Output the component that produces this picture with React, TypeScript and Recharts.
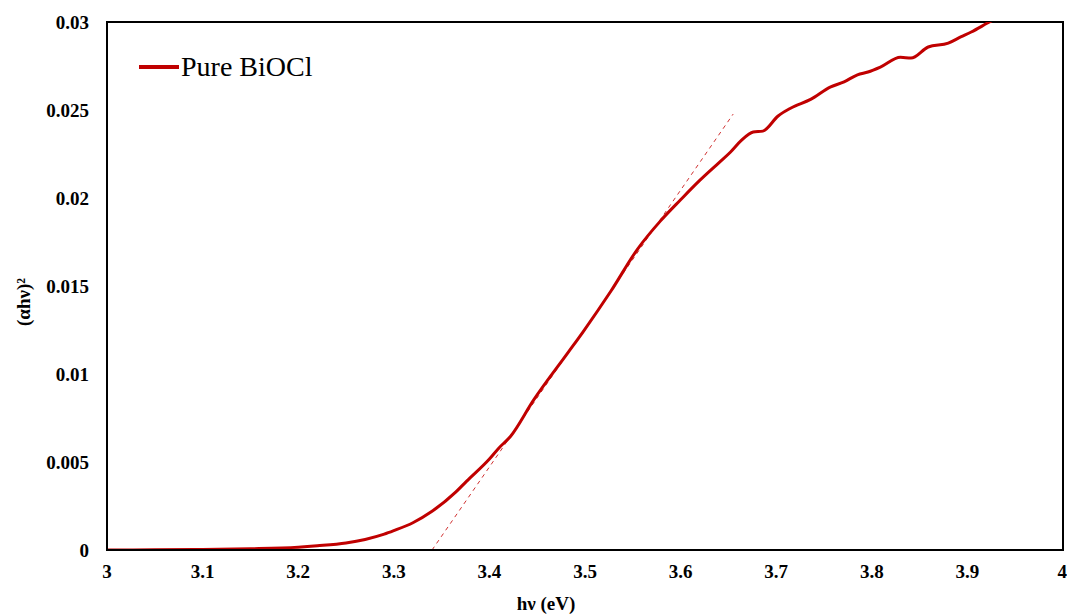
import React from 'react'
import { ComposedChart, Line, XAxis, YAxis, ReferenceArea } from 'recharts'

// photon energy (eV)
const energy = [
  3.0, 3.05, 3.1, 3.15, 3.2, 3.22, 3.25, 3.27, 3.29, 3.3, 3.32, 3.34, 3.365, 3.376,
  3.4, 3.41, 3.422, 3.446, 3.482, 3.498, 3.527, 3.555, 3.579, 3.6, 3.62, 3.64,
  3.652, 3.663, 3.676, 3.686, 3.702, 3.715, 3.736, 3.757, 3.771, 3.785, 3.796,
  3.809, 3.83, 3.841, 3.859, 3.88, 3.893, 3.904, 3.921, 3.94,
]
// (alpha h nu)^2
const absorb = [
  0, 0.00001, 0.00003, 0.00007, 0.00016, 0.00024, 0.0004, 0.0006, 0.0009, 0.0011,
  0.00155, 0.0022, 0.0033, 0.0039, 0.00517, 0.0058, 0.00645, 0.0085, 0.0112,
  0.0124, 0.0147, 0.0171, 0.0187, 0.0199, 0.021, 0.022, 0.0226, 0.02324, 0.02375,
  0.0238, 0.02466, 0.0251, 0.0256, 0.02631, 0.0266, 0.027, 0.02716, 0.02744, 0.028,
  0.02795, 0.02858, 0.0288, 0.02915, 0.02943, 0.02994, 0.0305,
]

// tangent used for the band gap
const tangentX = [3.34, 3.655]
const tangentY = [0, 0.02477]

const xTicks = [3, 3.1, 3.2, 3.3, 3.4, 3.5, 3.6, 3.7, 3.8, 3.9, 4]
const yTicks = [0, 0.005, 0.01, 0.015, 0.02, 0.025, 0.03]

const curve = energy.map((e, i) => ({ e, v: absorb[i] }))
const tangent = tangentX.map((e, i) => ({ e, t: tangentY[i] }))

const serif = '"Liberation Serif", "Times New Roman", serif'

const tickStyle = {
  fontFamily: serif,
  fontWeight: 700,
  fontSize: 19,
  fill: '#000',
}

export default function App() {
  return (
    <div style={{ position: 'absolute', left: 0, top: 0, background: '#fff' }}>
      <ComposedChart
        width={1067}
        height={615}
        margin={{ top: 22, right: 4, left: 0, bottom: 0 }}
      >
        <XAxis
          type="number"
          dataKey="e"
          domain={[3, 4]}
          ticks={xTicks}
          allowDataOverflow
          height={65}
          tickLine={false}
          tickSize={0}
          tickMargin={15}
          axisLine={{ stroke: '#000', strokeWidth: 2 }}
          tick={tickStyle}
          label={{
            content: ({ viewBox }: any) => (
              <text
                x={viewBox.x + 439}
                y={viewBox.y + 60}
                textAnchor="middle"
                style={{ ...tickStyle, fontSize: 19 }}
              >
                hν (eV)
              </text>
            ),
          }}
        />
        <YAxis
          type="number"
          domain={[0, 0.03]}
          ticks={yTicks}
          allowDataOverflow
          width={107}
          tickLine={false}
          tickSize={0}
          tickMargin={18}
          axisLine={{ stroke: '#000', strokeWidth: 2 }}
          tick={tickStyle}
          label={{
            content: ({ viewBox }: any) => {
              const cx = 23
              const cy = viewBox.y + viewBox.height / 2 + 16
              return (
                <text
                  x={cx}
                  y={cy}
                  textAnchor="middle"
                  dominantBaseline="central"
                  transform={`rotate(-90 ${cx} ${cy})`}
                  style={{ ...tickStyle, fontSize: 19 }}
                >
                  (αhν)²
                </text>
              )
            },
          }}
        />
        <ReferenceArea
          x1={3}
          x2={4}
          y1={0}
          y2={0.03}
          fill="none"
          stroke="#000"
          strokeWidth={2}
        />
        <Line
          data={tangent}
          dataKey="t"
          type="linear"
          stroke="#d03030"
          strokeWidth={1}
          strokeDasharray="4 4"
          dot={false}
          isAnimationActive={false}
        />
        <Line
          data={curve}
          dataKey="v"
          name="Pure BiOCl"
          type="monotone"
          stroke="#c00000"
          strokeWidth={3}
          dot={false}
          isAnimationActive={false}
        />
      </ComposedChart>
      {/* legend sits inside the plot, top left */}
      <div
        style={{
          position: 'absolute',
          left: 139,
          top: 51,
          display: 'flex',
          alignItems: 'center',
        }}
      >
        <div style={{ width: 40, height: 4, background: '#c00000' }} />
        <span
          style={{
            fontFamily: serif,
            fontSize: 28,
            color: '#000',
            marginLeft: 2,
          }}
        >
          Pure BiOCl
        </span>
      </div>
    </div>
  )
}
